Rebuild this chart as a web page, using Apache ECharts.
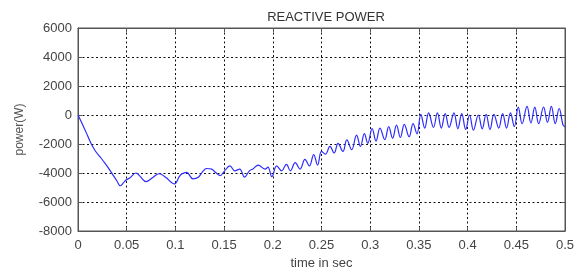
<!DOCTYPE html>
<html>
<head>
<meta charset="utf-8">
<script src="https://cdn.jsdelivr.net/npm/echarts@6/dist/echarts.min.js"></script>
<style>
html,body{margin:0;padding:0;background:#fff;}
#chart{width:581px;height:275px;}
</style>
</head>
<body>
<div id="chart"></div>
<script>
// Data (time in s, reactive power in W)
var timeSec = [
  0, 0.005, 0.010, 0.0133, 0.018, 0.024, 0.028, 0.032, 0.036, 0.040,
  0.0435, 0.047, 0.049, 0.053, 0.0595, 0.064, 0.070, 0.076, 0.0835, 0.090,
  0.099, 0.104, 0.1064, 0.1115, 0.118, 0.1235, 0.128, 0.132, 0.1373, 0.141,
  0.146, 0.150, 0.156, 0.161, 0.166, 0.171, 0.176, 0.180, 0.185, 0.192,
  0.195, 0.199, 0.204, 0.209, 0.214, 0.218, 0.223, 0.228, 0.233, 0.2375,
  0.242, 0.246, 0.250, 0.254, 0.2587, 0.263, 0.267, 0.272, 0.276, 0.281,
  0.286, 0.290, 0.294, 0.2975, 0.302, 0.306, 0.310, 0.315, 0.319, 0.323,
  0.327, 0.331, 0.335, 0.340, 0.344, 0.348, 0.352, 0.356, 0.360, 0.365,
  0.369, 0.373, 0.377, 0.381, 0.386, 0.390, 0.394, 0.398, 0.402, 0.406,
  0.411, 0.415, 0.419, 0.423, 0.427, 0.432, 0.436, 0.440, 0.444, 0.448,
  0.452, 0.456, 0.461, 0.465, 0.469, 0.473, 0.478, 0.482, 0.486, 0.490,
  0.494, 0.498, 0.500
];
var reactivePower = [
  0, -700, -1450, -1950, -2500, -3000, -3350, -3730, -4150, -4550,
  -4880, -4650, -4500, -4350, -4000, -4250, -4600, -4350, -4050, -4300,
  -4750, -4250, -4070, -3960, -4400, -4290, -3900, -3690, -3730, -3950,
  -4180, -3900, -3510, -3850, -3730, -4290, -3850, -3700, -3460, -3730,
  -3600, -4250, -3510, -3850, -3400, -3850, -3290, -3730, -3060, -3510,
  -2730, -3460, -2510, -2700, -2170, -2620, -1950, -2510, -1720, -2390,
  -1390, -2170, -1280, -1950, -940, -1800, -900, -1700, -800, -1600,
  -700, -1550, -650, -1500, -600, -1300, 50, -900, 150, -850,
  150, -900, 100, -850, 150, -950, 100, -1000, 0, -1050,
  0, -950, 50, -1000, 50, -900, 100, -900, 150, -800,
  550, -600, 600, -550, 550, -600, 550, -500, 600, -600,
  450, -700, -800
];
var xTicks = [0, 0.05, 0.1, 0.15, 0.2, 0.25, 0.3, 0.35, 0.4, 0.45, 0.5];
var yTicks = [-8000, -6000, -4000, -2000, 0, 2000, 4000, 6000];
var titleText = 'REACTIVE POWER';
var xName = 'time in sec';
var yName = 'power(W)';

var seriesData = timeSec.map(function (t, i) { return [t, reactivePower[i]]; });
var font = 'Liberation Sans, Arial, sans-serif';
var chart = echarts.init(document.getElementById('chart'), null, {renderer: 'canvas'});
var gridLine = {show: true, lineStyle: {color: '#111', type: [2, 2.5], width: 1}};
var frameLine = {show: true, onZero: false, lineStyle: {color: '#555'}};
chart.setOption({
  animation: false,
  backgroundColor: '#fff',
  title: {
    text: titleText, left: 321, top: 6, textAlign: 'center',
    textStyle: {fontFamily: font, fontSize: 13, fontWeight: 'normal', color: '#333'}
  },
  grid: {left: 78, right: 16, top: 28, bottom: 38, show: true, borderColor: '#555', borderWidth: 1, containLabel: false},
  xAxis: [{
    type: 'value', min: xTicks[0], max: xTicks[xTicks.length - 1], interval: 0.05,
    name: xName, nameLocation: 'middle', nameGap: 26,
    nameTextStyle: {fontFamily: font, fontSize: 13, color: '#444'},
    axisLine: frameLine,
    axisTick: {show: true, inside: true, length: 4, lineStyle: {color: '#555'}},
    axisLabel: {fontFamily: font, fontSize: 13, color: '#444', margin: 8,
      formatter: function (v) { return String(Math.round(v * 100) / 100); }},
    splitLine: gridLine
  }, {
    type: 'value', position: 'top', min: 0, max: 0.5, interval: 0.05,
    axisLine: frameLine,
    axisTick: {show: true, inside: true, length: 4, lineStyle: {color: '#555'}},
    axisLabel: {show: false}, splitLine: {show: false}
  }],
  yAxis: [{
    type: 'value', min: yTicks[0], max: yTicks[yTicks.length - 1], interval: 2000,
    name: yName, nameLocation: 'middle', nameGap: 52, nameRotate: 90,
    nameTextStyle: {fontFamily: font, fontSize: 12, color: '#555'},
    axisLine: frameLine,
    axisTick: {show: true, inside: true, length: 4, lineStyle: {color: '#555'}},
    axisLabel: {fontFamily: font, fontSize: 13, color: '#444', margin: 6,
      formatter: function (v) { return String(v); }},
    splitLine: gridLine
  }, {
    type: 'value', position: 'right', min: -8000, max: 6000, interval: 2000,
    axisLine: frameLine,
    axisTick: {show: true, inside: true, length: 4, lineStyle: {color: '#555'}},
    axisLabel: {show: false}, splitLine: {show: false}
  }],
  series: [{
    type: 'line', xAxisIndex: 0, yAxisIndex: 0, data: seriesData,
    showSymbol: false, smooth: 0.4,
    lineStyle: {color: '#2b2bff', width: 1.2}
  }]
});
</script>
</body>
</html>
